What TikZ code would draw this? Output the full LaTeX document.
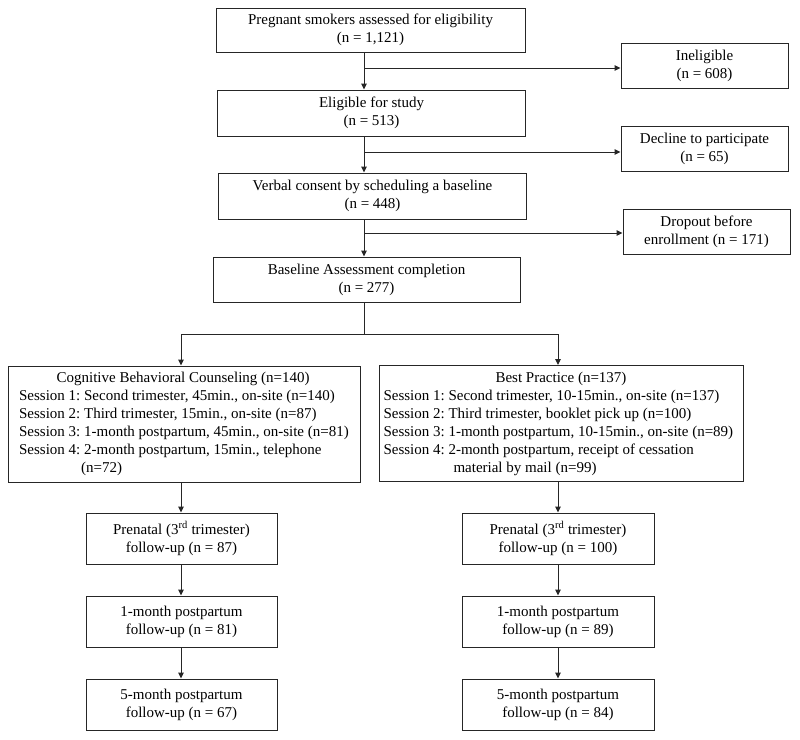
\documentclass[tikz,border=0pt]{standalone}
\usepackage{fontspec}
\setmainfont{Liberation Serif}
\usetikzlibrary{arrows.meta}
\begin{document}
\frenchspacing
\begin{tikzpicture}[x=1pt,y=-1pt,
  box/.style={draw=black!85, line width=1pt, inner sep=0pt, align=center,
    font=\fontsize{15}{18}\selectfont\frenchspacing,
    execute at begin node={\rule{0pt}{15pt}}},
  arm/.style={box, align=left, minimum height=116pt,
    execute at begin node={\rule{0pt}{19pt}}},
  conn/.style={draw=black!85, line width=1pt},
  arr/.style={conn, -{Triangle[length=6pt,width=5.5pt]}}]
\useasboundingbox (0,0) rectangle (800,739);

% main column
\node[box, minimum width=309pt, minimum height=44pt] (b1) at (370.5,30)
  {Pregnant smokers assessed for eligibility\\(n = 1,121)};
\node[box, minimum width=308pt, minimum height=46pt] (b2) at (371.5,113)
  {Eligible for study\\(n = 513)};
\node[box, minimum width=308pt, minimum height=46pt] (b3) at (372.5,196)
  {Verbal consent by scheduling a baseline\\(n = 448)};
\node[box, minimum width=307pt, minimum height=45pt] (b4) at (366.5,279.5)
  {Baseline Assessment completion\\(n = 277)};

% exclusions
\node[box, minimum width=167pt, minimum height=45pt] (inel) at (704.5,65.5)
  {Ineligible\\(n = 608)};
\node[box, minimum width=167pt, minimum height=45pt] (decl) at (704.5,148.5)
  {Decline to participate\\(n = 65)};
\node[box, minimum width=167pt, minimum height=45pt] (drop) at (706.5,231.5)
  {Dropout before\\enrollment (n = 171)};

% arms
\node[arm, minimum width=352pt] (cbc) at (184,424)
  {\makebox[328pt][c]{Cognitive Behavioral Counseling (n=140)}\\
   Session 1: Second trimester, 45min., on-site (n=140)\\
   Session 2: Third trimester, 15min., on-site (n=87)\\
   Session 3: 1-month postpartum, 45min., on-site (n=81)\\
   Session 4: 2-month postpartum, 15min., telephone\\
   \hspace*{62pt}(n=72)};
\node[arm, minimum width=364pt] (bp) at (561,423.5)
  {\makebox[355pt][c]{Best Practice (n=137)}\\
   Session 1: Second trimester, 10-15min., on-site (n=137)\\
   Session 2: Third trimester, booklet pick up (n=100)\\
   Session 3: 1-month postpartum, 10-15min., on-site (n=89)\\
   Session 4: 2-month postpartum, receipt of cessation\\
   \hspace*{70pt}material by mail (n=99)};

% follow-ups
\node[box, minimum width=191pt, minimum height=51pt] (l1) at (181.5,538.5)
  {Prenatal (3\textsuperscript{rd} trimester)\\follow-up (n = 87)};
\node[box, minimum width=191pt, minimum height=51pt] (l2) at (181.5,621.5)
  {1-month postpartum\\follow-up (n = 81)};
\node[box, minimum width=191pt, minimum height=51pt] (l3) at (181.5,704.5)
  {5-month postpartum\\follow-up (n = 67)};
\node[box, minimum width=192pt, minimum height=51pt] (r1) at (558,538.5)
  {Prenatal (3\textsuperscript{rd} trimester)\\follow-up (n = 100)};
\node[box, minimum width=192pt, minimum height=51pt] (r2) at (558,621.5)
  {1-month postpartum\\follow-up (n = 89)};
\node[box, minimum width=192pt, minimum height=51pt] (r3) at (558,704.5)
  {5-month postpartum\\follow-up (n = 84)};

% connectors
\coordinate (spine) at (364,0);
\coordinate (lx) at (181,0);
\coordinate (rx) at (558,0);
\coordinate (j1) at (364,68);
\coordinate (j2) at (364,152);
\coordinate (j3) at (364,233);
\coordinate (split) at (364,334);

\draw[arr] (b1.south -| spine) -- (b2.north -| spine);
\draw[arr] (b2.south -| spine) -- (b3.north -| spine);
\draw[arr] (b3.south -| spine) -- (b4.north -| spine);
\draw[arr] (j1) -- (j1 -| inel.west);
\draw[arr] (j2) -- (j2 -| decl.west);
\draw[arr] (j3) -- (j3 -| drop.west);

\draw[conn] (b4.south -| spine) -- (split);
\draw[arr] (split) -- (split -| lx) -- (cbc.north -| lx);
\draw[arr] (split) -- (split -| rx) -- (bp.north -| rx);

\draw[arr] (cbc.south -| lx) -- (l1.north -| lx);
\draw[arr] (l1.south -| lx) -- (l2.north -| lx);
\draw[arr] (l2.south -| lx) -- (l3.north -| lx);
\draw[arr] (bp.south -| rx) -- (r1.north -| rx);
\draw[arr] (r1.south -| rx) -- (r2.north -| rx);
\draw[arr] (r2.south -| rx) -- (r3.north -| rx);
\end{tikzpicture}
\end{document}
